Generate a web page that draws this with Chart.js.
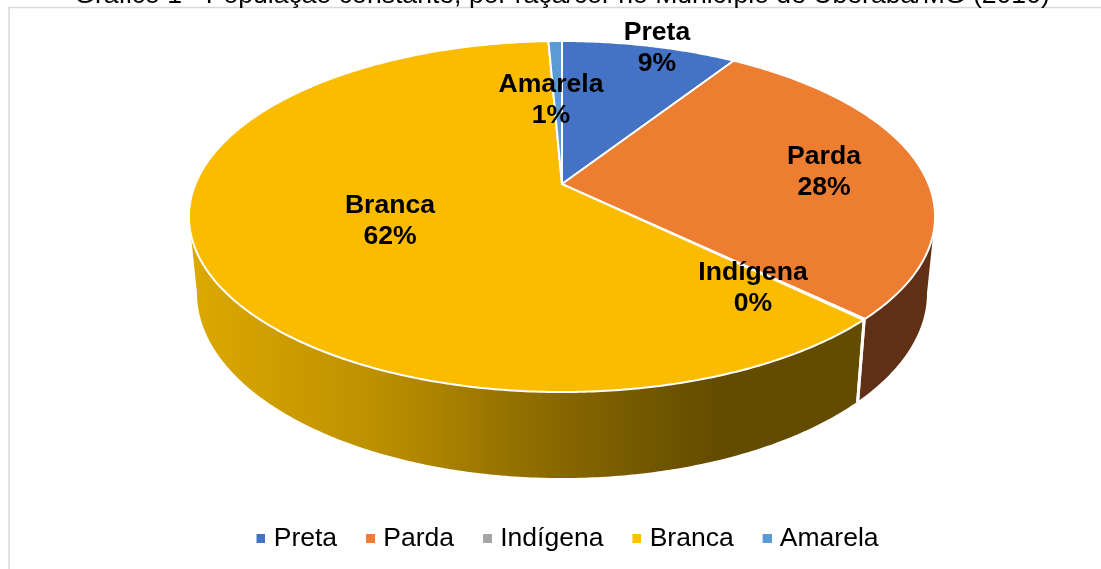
<!DOCTYPE html>
<html lang="pt">
<head>
<meta charset="utf-8">
<title>Gráfico 1</title>
<script src="https://cdn.jsdelivr.net/npm/chart.js@4"></script>
<style>
  html, body { margin: 0; padding: 0; background: #fff; overflow: hidden; }
  #wrap { width: 1101px; height: 569px; }
</style>
</head>
<body>
<div id="wrap"><canvas id="pie3d"></canvas></div>
<script>
const categories = ["Preta", "Parda", "Indígena", "Branca", "Amarela"];
const shares = [9.1, 28.1, 0.1, 62.0, 0.7];
const topColors = ["#4472C4", "#ED7D31", "#A5A5A5", "#FBBC00", "#5B9BD5"];
const legendColors = ["#4472C4", "#ED7D31", "#A5A5A5", "#FFC000", "#5B9BD5"];
const titleText = "Gráfico 1 - População constante, por raça/cor no Município de Uberaba/MG (2010)";

// label centres, relative to the pie apex
const labelOffsets = [[95, -135.5], [262, -11.5], [191, 104.5], [-172, 37.5], [-11, -83.5]];

// perspective of the tilted disc
const tilt = -0.185;
const topFace = { c: 366.6, a: 169.5, dy: 0 };
const baseFace = { c: 358.7, a: 178.7, dy: 74.7 };
const apexShift = { x: 0, y: -68.25 };
const legendShift = 7;

function project(arc, face, angle) {
  const u = Math.cos(angle);
  const v = Math.sin(angle);
  const w = 1 + tilt * v;
  return {
    x: arc.x + apexShift.x + (face.c * u) / w,
    y: arc.y + apexShift.y + face.dy + (face.a * v) / w,
  };
}

function traceRim(ctx, arc, face, from, to, join) {
  const steps = Math.max(2, Math.ceil(Math.abs(to - from) / 0.01));
  for (let i = 0; i <= steps; i++) {
    const p = project(arc, face, from + ((to - from) * i) / steps);
    if (i === 0 && !join) ctx.moveTo(p.x, p.y);
    else ctx.lineTo(p.x, p.y);
  }
}

function wallFill(ctx, index) {
  if (index === 3) {
    const g = ctx.createLinearGradient(190, 0, 720, 0);
    g.addColorStop(0, "#DCA900");
    g.addColorStop(0.35, "#BD9000");
    g.addColorStop(0.7, "#876700");
    g.addColorStop(1, "#634B00");
    return g;
  }
  return ["#2A3F6E", "#5F3015", "#5A5A5A", "#634B00", "#325573"][index];
}

// front wall, then the top face, both read from the library's arc elements
const disc3d = {
  id: "disc3d",
  afterLayout(chart) {
    chart.legend.left += legendShift;
    chart.legend.right += legendShift;
  },
  beforeDraw(chart) {
    const ctx = chart.ctx;
    ctx.save();
    ctx.strokeStyle = "#D9D9D9";
    ctx.lineWidth = 1.5;
    ctx.beginPath();
    ctx.moveTo(1101, 7.5);
    ctx.lineTo(9, 7.5);
    ctx.lineTo(9, 569);
    ctx.stroke();
    ctx.restore();
  },
  beforeDatasetDraw(chart) {
    const ctx = chart.ctx;
    const arcs = chart.getDatasetMeta(0).data;
    const frontStart = Math.asin(-tilt);
    const frontEnd = Math.PI - frontStart;

    ctx.save();
    arcs.forEach((arc, i) => {
      const from = Math.max(arc.startAngle, frontStart);
      const to = Math.min(arc.endAngle, frontEnd);
      if (to <= from) return;
      ctx.beginPath();
      traceRim(ctx, arc, topFace, from, to, false);
      traceRim(ctx, arc, baseFace, to, from, true);
      ctx.closePath();
      ctx.fillStyle = wallFill(ctx, i);
      ctx.fill();
    });
    ctx.strokeStyle = "#fff";
    ctx.lineWidth = 1.5;
    arcs.forEach((arc) => {
      [arc.startAngle, arc.endAngle].forEach((a) => {
        if (a <= frontStart || a >= frontEnd) return;
        const p = project(arc, topFace, a);
        const q = project(arc, baseFace, a);
        ctx.beginPath();
        ctx.moveTo(p.x, p.y);
        ctx.lineTo(q.x, q.y);
        ctx.stroke();
      });
    });

    ctx.lineJoin = "round";
    arcs.forEach((arc) => {
      ctx.beginPath();
      ctx.moveTo(arc.x + apexShift.x, arc.y + apexShift.y);
      traceRim(ctx, arc, topFace, arc.startAngle, arc.endAngle, true);
      ctx.closePath();
      ctx.fillStyle = arc.options.backgroundColor;
      ctx.fill();
      ctx.lineWidth = arc.options.borderWidth;
      ctx.strokeStyle = arc.options.borderColor;
      ctx.stroke();
    });
    ctx.restore();
    return false;
  },
  afterDatasetsDraw(chart) {
    const ctx = chart.ctx;
    const arcs = chart.getDatasetMeta(0).data;
    const total = shares.reduce((s, v) => s + v, 0);
    ctx.save();
    ctx.fillStyle = "#000";
    ctx.font = 'bold 26.6px "Liberation Sans", Arial, sans-serif';
    ctx.textAlign = "center";
    ctx.textBaseline = "middle";
    arcs.forEach((arc, i) => {
      const x = arc.x + apexShift.x + labelOffsets[i][0];
      const y = arc.y + apexShift.y + labelOffsets[i][1];
      ctx.fillText(categories[i], x, y - 15.5);
      ctx.fillText(Math.round((shares[i] / total) * 100) + "%", x, y + 15.5);
    });
    ctx.restore();
  },
};

// 9px square, with 2px of empty space on its left to sit closer to the text
function legendSquare(color) {
  const c = document.createElement("canvas");
  c.width = 11;
  c.height = 9;
  const g = c.getContext("2d");
  g.fillStyle = color;
  g.fillRect(2, 0, 9, 9);
  return c;
}

new Chart(document.getElementById("pie3d"), {
  type: "pie",
  data: {
    labels: categories,
    datasets: [
      {
        data: shares,
        backgroundColor: topColors,
        borderColor: "#fff",
        borderWidth: 2,
      },
    ],
  },
  options: {
    responsive: true,
    maintainAspectRatio: false,
    animation: false,
    layout: { padding: { left: 23, bottom: 7 } },
    plugins: {
      title: {
        display: true,
        text: titleText,
        color: "#000",
        font: { family: '"Liberation Sans", Arial, sans-serif', size: 26.6, weight: "normal" },
        padding: { top: -20.8, bottom: 0 },
      },
      legend: {
        position: "bottom",
        labels: {
          usePointStyle: true,
          boxWidth: 1,
          padding: 32,
          color: "#000",
          font: { family: '"Liberation Sans", Arial, sans-serif', size: 26.5 },
          generateLabels(chart) {
            return categories.map((name, i) => ({
              text: name,
              fontColor: "#000",
              pointStyle: legendSquare(legendColors[i]),
              lineWidth: 0,
              strokeStyle: "transparent",
              fillStyle: legendColors[i],
              index: i,
            }));
          },
        },
      },
      tooltip: { enabled: false },
    },
  },
  plugins: [disc3d],
});
</script>
</body>
</html>
